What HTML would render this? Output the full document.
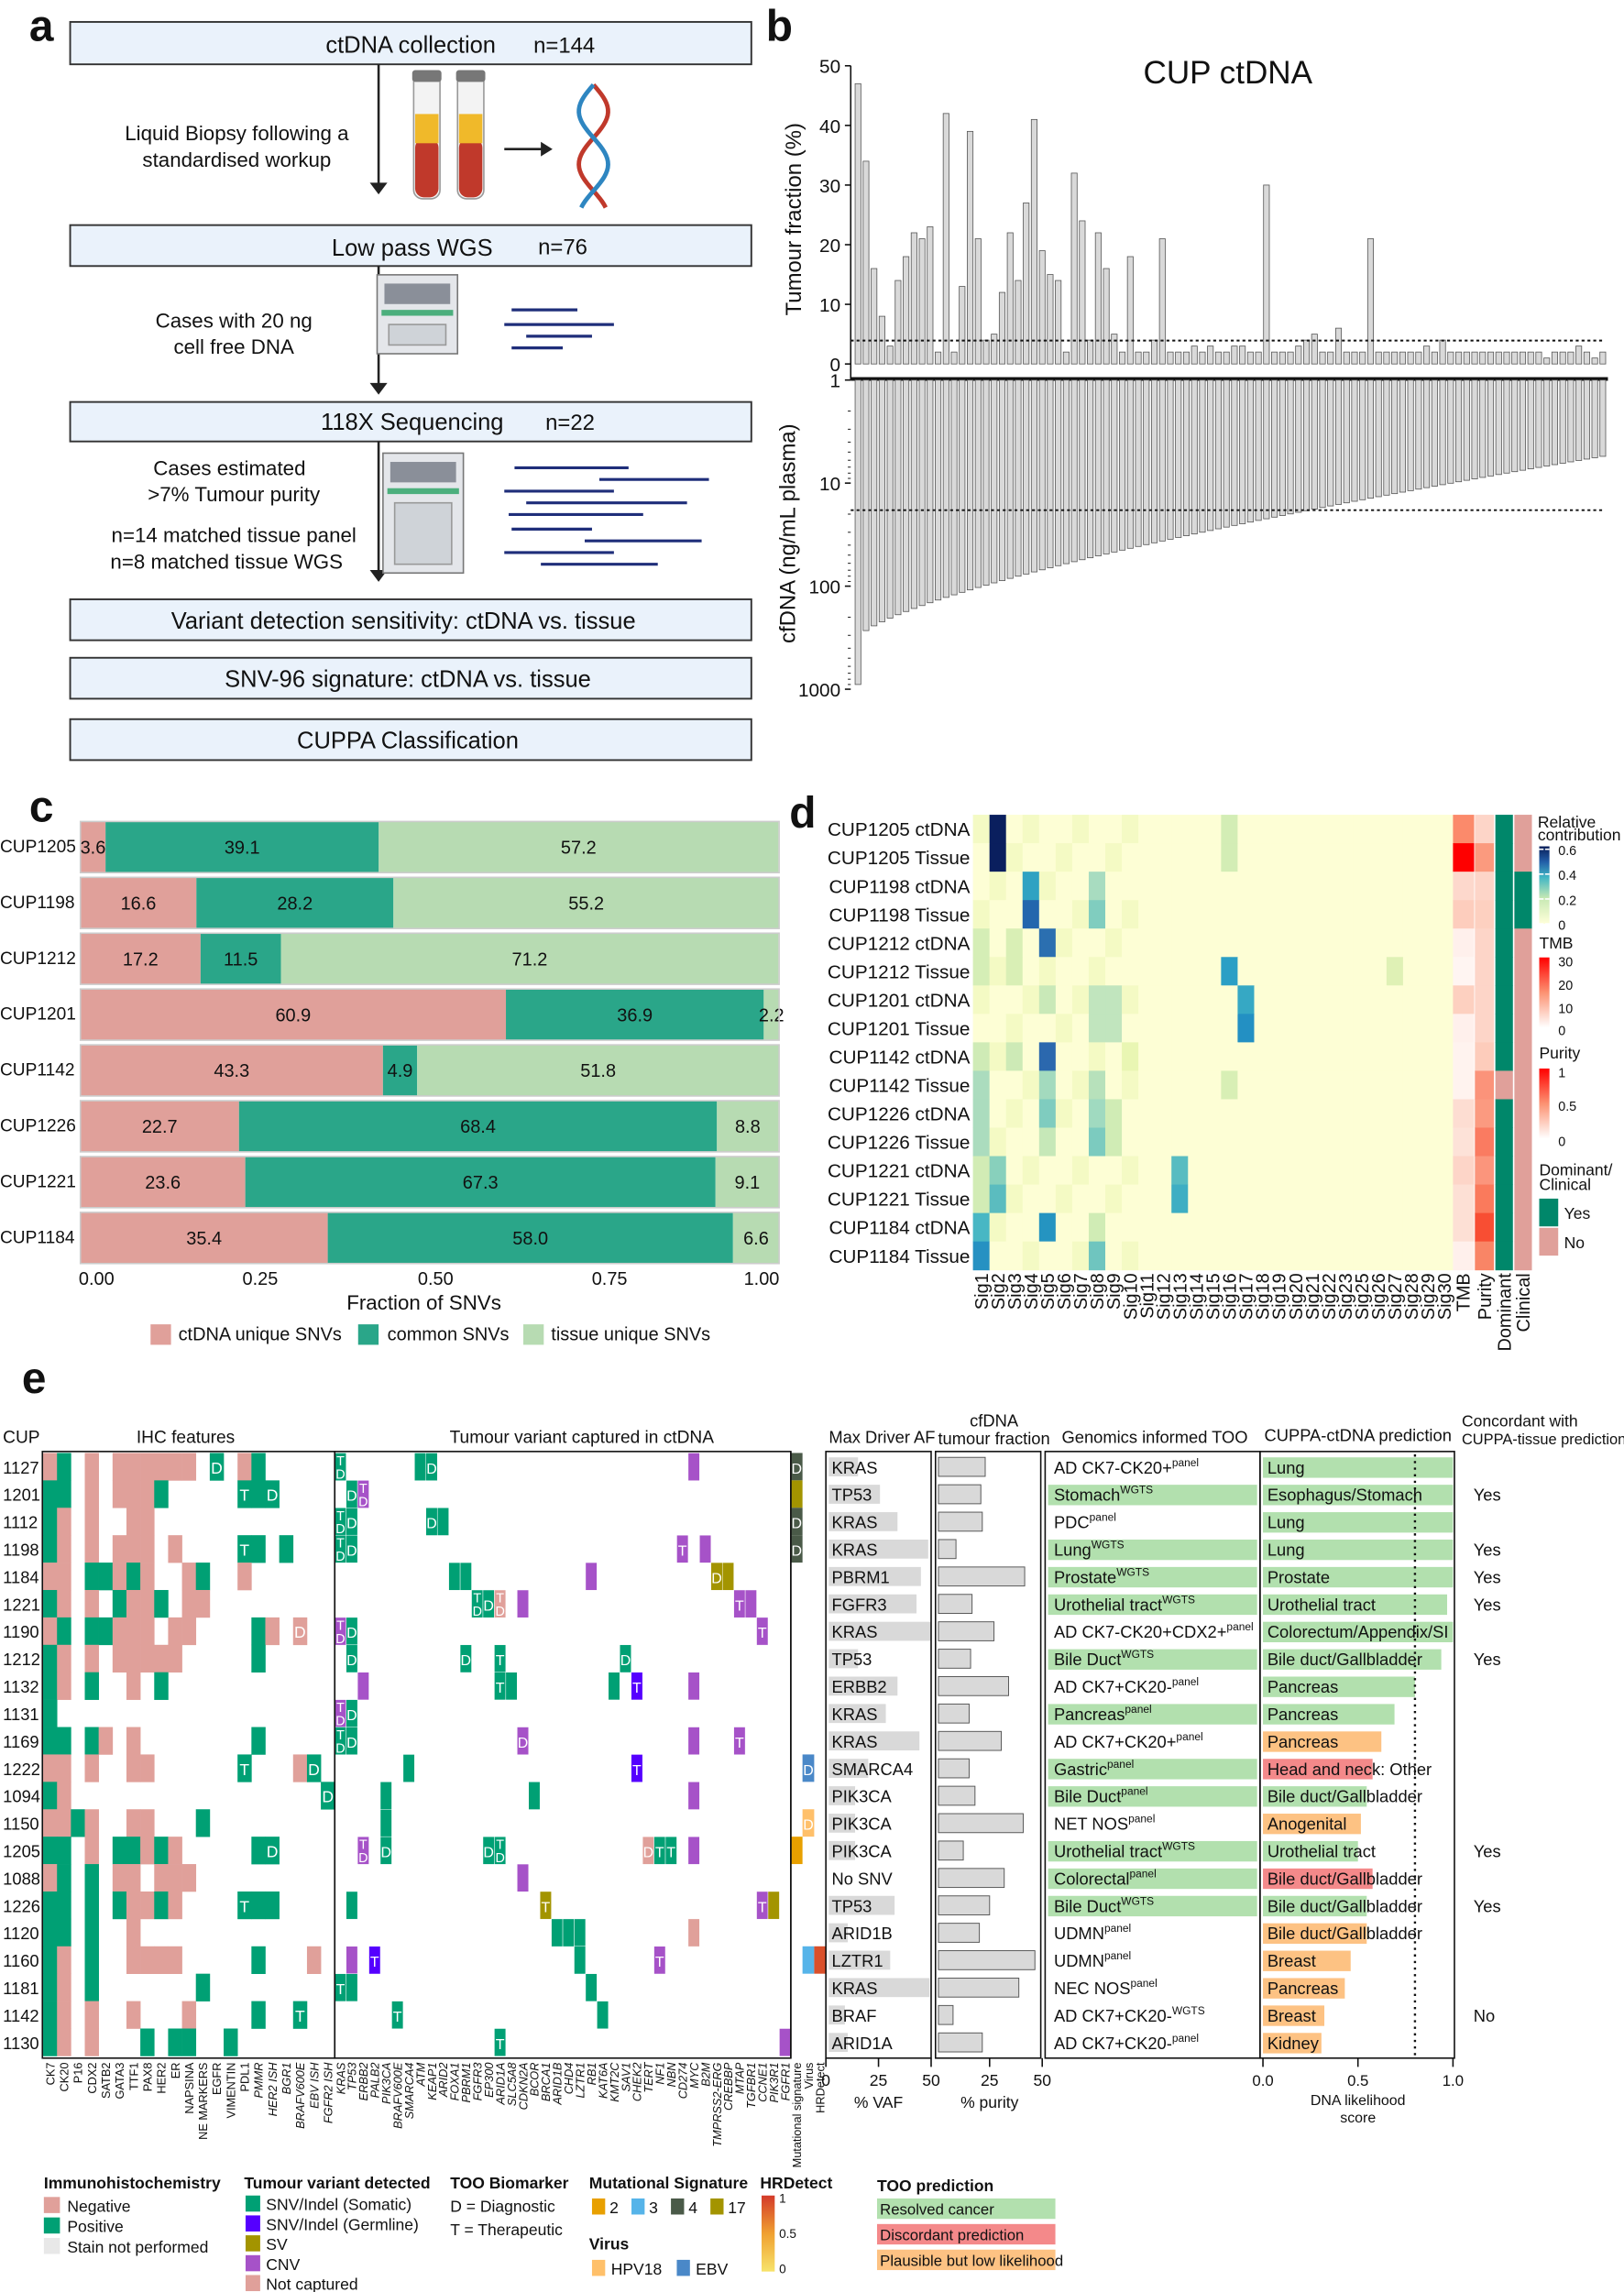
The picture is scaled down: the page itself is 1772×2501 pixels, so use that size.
<!DOCTYPE html>
<html><head><meta charset="utf-8"><style>html,body{margin:0;padding:0;background:#fff}svg{display:block}text{font-family:"Liberation Sans",sans-serif;fill:#111}</style></head>
<body>
<svg id="s" xmlns="http://www.w3.org/2000/svg" width="1772" height="2501" viewBox="0 0 1111 1568" preserveAspectRatio="none">
<defs>
<linearGradient id="gRel" x1="0" y1="1" x2="0" y2="0"><stop offset="0" stop-color="#ffffd9"/><stop offset="0.33" stop-color="#c7e9b4"/><stop offset="0.6" stop-color="#41b6c4"/><stop offset="0.8" stop-color="#225ea8"/><stop offset="1" stop-color="#081d58"/></linearGradient>
<linearGradient id="gRed" x1="0" y1="1" x2="0" y2="0"><stop offset="0" stop-color="#fff"/><stop offset="0.5" stop-color="#fc9272"/><stop offset="1" stop-color="#ff0000"/></linearGradient>
<linearGradient id="gHrd" x1="0" y1="1" x2="0" y2="0"><stop offset="0" stop-color="#f7e36a"/><stop offset="0.5" stop-color="#f0a030"/><stop offset="1" stop-color="#d33a2a"/></linearGradient>
</defs>
<g id="g"></g>
</svg>
<script>
var o=[];
function R(x,y,w,h,f,e){o.push('<rect x="'+x+'" y="'+y+'" width="'+w+'" height="'+h+'" fill="'+f+'" '+(e||'')+'/>');}
function T(x,y,s,sz,a,e){o.push('<text x="'+x+'" y="'+y+'" font-size="'+sz+'" text-anchor="'+(a||'start')+'" '+(e||'')+'>'+s+'</text>');}
function L(x1,y1,x2,y2,c,w,e){o.push('<line x1="'+x1+'" y1="'+y1+'" x2="'+x2+'" y2="'+y2+'" stroke="'+(c||'#111')+'" stroke-width="'+(w||1)+'" '+(e||'')+'/>');}
function P(d,e){o.push('<path d="'+d+'" '+e+'/>');}
// ===== panel a
T(20,28,'a',30,'start','font-weight="bold"');
var bx=[[15,44],[154,182],[275,302],[410,438],[450,478],[492,520]];
bx.forEach(function(b){R(48,b[0],466,b[1]-b[0],'#eaf2fb','stroke="#333" stroke-width="1.2"');});
T(281,36,'ctDNA collection',16,'middle');T(386,36,'n=144',15,'middle');
T(282,175,'Low pass WGS',16,'middle');T(385,174,'n=76',15,'middle');
T(282,294,'118X Sequencing',16,'middle');T(390,294,'n=22',15,'middle');
T(276,430,'Variant detection sensitivity: ctDNA vs. tissue',16,'middle');
T(279,470,'SNV-96 signature: ctDNA vs. tissue',16,'middle');
T(279,512,'CUPPA Classification',16,'middle');
[[44,133],[182,270],[302,398]].forEach(function(a){L(259,a[0],259,a[1]-6,'#222',1.6);P('M253,'+(a[1]-8)+' L259,'+a[1]+' L265,'+(a[1]-8)+' Z','fill="#222"');});
T(162,96,'Liquid Biopsy following a',14,'middle');T(162,114,'standardised workup',14,'middle');
T(160,224,'Cases with 20 ng',14,'middle');T(160,242,'cell free DNA',14,'middle');
T(157,325,'Cases estimated',14,'middle');T(160,343,'&gt;7% Tumour purity',14,'middle');
T(160,371,'n=14 matched tissue panel',14,'middle');T(155,389,'n=8 matched tissue WGS',14,'middle');
[283,313].forEach(function(x){R(x,50,18,86,'#f3f3f3','rx="6" stroke="#999"');R(x+1,95,16,40,'#c0392b','rx="6"');R(x+1,78,16,20,'#f0b92a');R(x-1,48,20,8,'#777','rx="2"');});
L(345,102,372,102,'#222',1.6);P('M370,97 L378,102 L370,107 Z','fill="#222"');
var d1='',d2='';for(var i=0;i<=40;i++){var y=58+i*2.1;d1+=(i?'L':'M')+(406+10*Math.sin(i/5.5))+','+y;d2+=(i?'L':'M')+(406-10*Math.sin(i/5.5))+','+y;}
P(d1,'fill="none" stroke="#c0392b" stroke-width="3"');P(d2,'fill="none" stroke="#2e86c1" stroke-width="3"');
function machine(x,y,h){R(x,y,55,h,'#e4e6ea','stroke="#777"');R(x+5,y+6,45,14,'#8a8f99');R(x+3,y+24,49,4,'#4caf7d');R(x+8,y+34,39,h-40,'#cfd3d8','stroke="#999"');}
machine(258,188,54);machine(262,310,82);
[[350,212,395],[345,222,420],[360,230,405],[350,238,385]].forEach(function(l){L(l[0],l[1],l[2],l[1],'#1f2e7a',2);});
[[352,320,430],[410,328,485],[345,336,420],[360,344,470],[348,352,440],[350,362,405],[400,370,480],[345,378,420],[370,386,450]].forEach(function(l){L(l[0],l[1],l[2],l[1],'#1f2e7a',2);});
// ===== panel b
T(524,28,'b',30,'start','font-weight="bold"');
T(840,57,'CUP ctDNA',22,'middle');
L(582,45,582,260,'#111',1);
for(var v=0;v<=50;v+=10){var y=249-v*4.08;L(578,y,582,y);T(575,y+5,v,13,'end');}
T(0,0,'Tumour fraction (%)',15,'middle','transform="translate(548,150) rotate(-90)"');
var tf=[47,34,16,8,3,14,18,22,21,23,2,42,2,13,39,21,4,5,12,22,14,27,41,19,15,14,2,32,24,4,22,16,5,2,18,2,2,4,21,2,2,2,3,2,3,2,2,3,3,2,2,30,2,2,2,3,4,5,2,2,6,2,2,2,21,2,2,2,2,2,2,3,2,4,2,2,2,2,2,2,2,2,2,2,2,2,1,2,2,2,3,2,1,2];
var N=tf.length,sp=515/N;
for(var i=0;i<N;i++){var h=tf[i]*4.08;R(585+i*sp,249-h,sp*0.72,h,'#d9d9d9','stroke="#555" stroke-width="0.5"');}
L(582,233,1098,233,'#111',1.2,'stroke-dasharray="2,2"');
R(582,258,518,2.5,'#111');
for(var i=0;i<N;i++){var t=Math.pow(i/(N-1),0.7),v=i==0?900:Math.exp(Math.log(320)-(Math.log(320)-Math.log(5.5))*t);var h=Math.log10(v)*70.5;R(585+i*sp,260,sp*0.72,h,'#d9d9d9','stroke="#555" stroke-width="0.5"');}
[[1,260],[10,330.5],[100,401],[1000,471.5]].forEach(function(a){L(578,a[1],582,a[1]);T(575,a[1]+5,a[0],13,'end');});
for(var k=0;k<3;k++)for(var m=2;m<10;m++){var y=260+70.5*(k+Math.log10(m));L(580,y,582,y,'#111',0.6);}
L(582,349,1098,349,'#111',1.2,'stroke-dasharray="2,2"');
T(0,0,'cfDNA (ng/mL plasma)',15,'middle','transform="translate(544,365) rotate(-90)"');
// ===== panel c
T(20,562,'c',30,'start','font-weight="bold"');
var cd=[['CUP1205',3.6,39.1,57.2],['CUP1198',16.6,28.2,55.2],['CUP1212',17.2,11.5,71.2],['CUP1201',60.9,36.9,2.2],['CUP1142',43.3,4.9,51.8],['CUP1226',22.7,68.4,8.8],['CUP1221',23.6,67.3,9.1],['CUP1184',35.4,58.0,6.6]];
var cx0=55,cw=478,cc=['#e0a09a','#2aa689','#b7dbb2'];
cd.forEach(function(r,i){var y=562+i*38.2,x=cx0;T(0,y+21,r[0],12);
 for(var j=0;j<3;j++){var w=r[j+1]/100*cw;R(x,y,w,35,cc[j]);var lx=x+w/2;T(lx,y+22,r[j+1].toFixed(1),12.5,'middle');x+=w;}
 R(cx0,y,cw,35,'none','stroke="#ccc" stroke-width="1"');});
[['0.00',66],['0.25',178],['0.50',298],['0.75',417],['1.00',521]].forEach(function(a){T(a[1],879,a[0],12.5,'middle');});
T(290,896,'Fraction of SNVs',14,'middle');
R(103,906,14,14,cc[0]);T(122,917,'ctDNA unique SNVs',12.5);R(245,906,14,14,cc[1]);T(265,917,'common SNVs',12.5);R(358,906,14,14,cc[2]);T(377,917,'tissue unique SNVs',12.5);
// ===== panel d
T(540,566,'d',30,'start','font-weight="bold"');
var rl=['CUP1205 ctDNA','CUP1205 Tissue','CUP1198 ctDNA','CUP1198 Tissue','CUP1212 ctDNA','CUP1212 Tissue','CUP1201 ctDNA','CUP1201 Tissue','CUP1142 ctDNA','CUP1142 Tissue','CUP1226 ctDNA','CUP1226 Tissue','CUP1221 ctDNA','CUP1221 Tissue','CUP1184 ctDNA','CUP1184 Tissue'];
var hx=665.6,hw=(993.8-665.6)/29,hy=557.4,hh=19.46;
var sp2={'0,1':'#0a1f5e','1,1':'#0a1f5e','2,3':'#2fa2c2','3,3':'#2366ad','4,4':'#2b6fb0','8,4':'#2b68ae','14,4':'#2594c1','9,4':'#a3dabe','10,4':'#7fccbf','11,4':'#c6e8b8','6,4':'#c9e9b8',
'2,7':'#a8dcc0','3,7':'#80cdbf','6,7':'#c1e5be','7,7':'#c1e5be','6,8':'#c1e5be','7,8':'#c1e5be','9,7':'#b7e1bb','10,7':'#a0dac0','11,7':'#7ccbbf','15,7':'#6fc5bf','10,8':'#d0ecb5','11,8':'#d0ecb5','14,7':'#d0ecb5',
'5,15':'#2b9fc5','6,16':'#36a8c4','7,16':'#2390c3','12,12':'#58bcc1','13,12':'#3eaec3','12,1':'#88d0bc','13,1':'#5bbcbf','0,15':'#d3edb5','1,15':'#d3edb5','9,15':'#d8efb5',
'14,0':'#48b7c4','15,0':'#2691c2','9,0':'#abdcbe','10,0':'#abdcbe','11,0':'#abdcbe','12,0':'#d2ecb5','13,0':'#d2ecb5','4,0':'#d5eeb6','5,0':'#d5eeb6','8,0':'#cfebb6','4,2':'#d9efb5','5,2':'#d9efb5','8,2':'#cdeab6','5,25':'#dff1b5','8,9':'#e9f6b3'};
for(var r=0;r<16;r++){T(hx-2,hy+r*hh+14.5,rl[r],13,'end');for(var c=0;c<29;c++){var k=r+','+c,f=sp2[k]||((c<10&&(r+c)%3==0)?'#f4fac4':'#fdfed5');R(hx+c*hw,hy+r*hh,hw+0.3,hh+0.3,f);}}
var tmb=['#fb8a6b','#fe0000','#fdd8cc','#fdcdbd','#fff0ec','#fff5f2','#fdd0c0','#fff0ec','#fff3ef','#fff3ef','#fdddd2','#fde2d8','#fdd5c8','#fde0d5','#fde0d5','#fff0ec'];
var pur=['#fdd5c8','#fb9a7e','#fdd5c8','#fdd0c0','#fdd5c8','#fdd5c8','#fdd5c8','#fdd5c8','#fdccbb','#fb937a','#fb9a80','#fa7b61','#fb957c','#fa7a5c','#f84e33','#f98566'];
for(var r=0;r<16;r++){var y=hy+r*hh;R(994,y,14.5,hh+0.3,tmb[r]);R(1009,y,13,hh+0.3,pur[r]);R(1023,y,12,hh+0.3,r==9?'#e0a09a':'#00876a');R(1036,y,12,hh+0.3,(r==2||r==3)?'#00876a':'#e0a09a');}
var sl=[];for(var i=1;i<=30;i++)if(i!=24)sl.push('Sig'+i);
sl.forEach(function(s,i){var x=hx+i*hw+hw/2+4.5;T(0,0,s,12.5,'end','transform="translate('+x+',871) rotate(-90)"');});
[['TMB',1001],['Purity',1015.5],['Dominant',1029],['Clinical',1042]].forEach(function(a){T(0,0,a[0],12.5,'end','transform="translate('+(a[1]+4.5)+',871) rotate(-90)"');});
T(1052,566,'Relative',11);T(1052,575,'contribution',11);
R(1053,579,7,53,'url(#gRel)');[['0.6',581],['0.4',598],['0.2',615],['0',632]].forEach(function(a){T(1066,a[1]+4,a[0],9);L(1053,a[1],1056,a[1],'#fff');L(1057,a[1],1060,a[1],'#fff');});
T(1053,649,'TMB',11);R(1053,655,7,48,'url(#gRed)');[['30',657],['20',673],['10',689],['0',704]].forEach(function(a){T(1066,a[1]+4,a[0],9);});
T(1053,724,'Purity',11);R(1053,731,7,48,'url(#gRed)');[['1',733],['0.5',756],['0',780]].forEach(function(a){T(1066,a[1]+4,a[0],9);});
T(1053,804,'Dominant/',11);T(1053,814,'Clinical',11);R(1053,820,13,19,'#00876a');T(1070,834,'Yes',11);R(1053,840,13,19,'#e0a09a');T(1070,854,'No',11);
// ===== panel e
T(15,953,'e',30,'start','font-weight="bold"');
T(2,987,'CUP',12);T(127,987,'IHC features',12,'middle');T(398,987,'Tumour variant captured in ctDNA',12,'middle');
T(567,987,'Max Driver AF',11.5);T(680,976,'cfDNA',11.5,'middle');T(680,988,'tumour fraction',11.5,'middle');
T(790,987,'Genomics informed TOO',11.5,'middle');T(929,986,'CUPPA-ctDNA prediction',11.5,'middle');T(1000,976,'Concordant with',11);T(1000,988,'CUPPA-tissue prediction',10.3);
var cups=[1127,1201,1112,1198,1184,1221,1190,1212,1132,1131,1169,1222,1094,1150,1205,1088,1226,1120,1160,1181,1142,1130];
var ey=994,eh=18.75;
var ihc=['PG.P.PPPPPP.D.PG.....','GG.P.PPPG.....TGD....','GP.P..PP.............','GP.P.PPP.P....TG.G...','PP.GGPGP..PG..P......','GP.P.GPPG.PP.........','PG.GGPPP.PP....GP.d..','GP.P.PPPPP.....G.....','GP.G..P.G............','G....................','GG.GP.P........G.....','PP.P..PP......T...PD.','GP..................D','PPGP..PP...G.........','GG.P.GGPGP.....GD....','PG.G.PP.PPP..........','GG.G.GPPGP....TGG....','GG.G..P..............','GP.G..PPPP.....G...P.','GP.G.......G.........','GP.P..P...P....G..T..','GP.P...G.GG..G.......'];
var ix=29.5,iw=9.5,G='#00a074',PK='#e0a09a',V='#a652c8',B='#5500ff',O='#a39400';
cups.forEach(function(c,r){var y=ey+r*eh;T(2,y+14,c,11.5);
 for(var j=0;j<21;j++){var ch=ihc[r][j];if(ch=='.')continue;var f=(ch=='P'||ch=='d')?PK:G;R(ix+j*iw,y,iw+0.2,eh+0.2,f);if(ch=='D'||ch=='d'||ch=='T')T(ix+j*iw+iw/2,y+14,ch=='T'?'T':'D',11,'middle','style="fill:#fff"');}});
var vx=229,vw=7.8;
var vr=[[[0,G,'TD'],[7,G],[8,G,'D'],[31,V]],[[1,G,'D'],[2,V,'TD']],[[0,G,'TD'],[1,G,'D'],[8,G,'D'],[9,G]],[[0,G,'TD'],[1,G,'D'],[30,V,'T'],[32,V]],[[10,G],[11,G],[22,V],[33,O,'D'],[34,O]],[[12,G,'TD'],[13,G,'D'],[14,PK,'TD'],[16,V],[35,V,'T'],[36,V]],[[0,V,'TD'],[1,G,'D'],[37,V,'T']],[[1,G,'D'],[11,G,'D'],[14,G,'T'],[25,G,'D']],[[2,V],[14,G,'T'],[15,G],[24,G],[26,B,'T'],[31,V]],[[0,V,'TD'],[1,G,'D']],[[0,G,'TD'],[1,G,'D'],[16,V,'D'],[31,V],[35,V,'T']],[[6,G],[26,B,'T']],[[4,G],[17,G],[31,V]],[[4,G]],[[2,V,'TD'],[4,G,'D'],[13,G,'D'],[14,G,'TD'],[27,PK,'D'],[28,G,'T'],[29,G,'T'],[31,V]],[[16,V]],[[1,G],[18,O,'T'],[37,V,'T'],[38,O]],[[19,G],[20,G],[21,G],[31,PK]],[[1,V],[3,B,'T'],[21,G],[28,V,'T']],[[0,G,'T'],[1,G],[22,G]],[[5,G,'T'],[23,G]],[[14,G,'T'],[39,V]]];
vr.forEach(function(a,r){var y=ey+r*eh;a.forEach(function(c){var x=vx+c[0]*vw;R(x,y,vw,eh+0.2,c[1],'stroke="#fff" stroke-width="0.3"');if(c[2]=='TD'){T(x+vw/2,y+8.5,'T',9,'middle','style="fill:#fff"');T(x+vw/2,y+17.5,'D',9,'middle','style="fill:#fff"');}else if(c[2])T(x+vw/2,y+14,c[2],10,'middle','style="fill:#fff"');});});
var ms=[[0,'#4a5a48','D'],[1,O],[2,'#4a5a48','D'],[3,'#4a5a48','D'],[14,'#e8a000']];
ms.forEach(function(m){var y=ey+m[0]*eh;R(541,y,8,eh,m[1]);if(m[2])T(545,y+14,'D',10,'middle','style="fill:#fff"');});
R(549,ey+11*eh,8,eh,'#4a88c8');T(553,ey+11*eh+14,'D',10,'middle','style="fill:#fff"');
R(549,ey+13*eh,8,eh,'#ffc06a');T(553,ey+13*eh+14,'D',10,'middle','style="fill:#fff"');
R(549,ey+18*eh,8,eh,'#56b4e9');R(557,ey+18*eh,8,eh,'#d9502b');
R(29,993,200,415,'none','stroke="#111" stroke-width="1"');R(229,993,312,415,'none','stroke="#111" stroke-width="1"');L(541,993,541,1408);
var il=['CK7','CK20','P16','CDX2','SATB2','GATA3','TTF1','PAX8','HER2','ER','NAPSINA','NE MARKERS','EGFR','VIMENTIN','PDL1','PMMR','HER2 ISH','BGR1','BRAFV600E','EBV ISH','FGFR2 ISH'];
il.forEach(function(s,i){var x=ix+i*iw+iw/2+3;T(0,0,s,8,'end','transform="translate('+x+',1411) rotate(-90)"'+(i>=15?' font-style="italic"':''));});
var vl=['KRAS','TP53','ERBB2','PALB2','PIK3CA','BRAFV600E','SMARCA4','ATM','KEAP1','ARID2','FOXA1','PBRM1','FGFR3','EP300','ARID1A','SLC5A8','CDKN2A','BCOR','BRCA1','ARID1B','CHD4','LZTR1','RB1','KAT6A','KMT2C','SAV1','CHEK2','TERT','NF1','NBN','CD274','MYC','B2M','TMPRSS2-ERG','CREBBP','MTAP','TGFBR1','CCNE1','PIK3R1','FGFR1'];
vl.forEach(function(s,i){var x=vx+i*vw+vw/2+3;T(0,0,s,8,'end','transform="translate('+x+',1411) rotate(-90)" font-style="italic"');});
[['Mutational signature',545],['Virus',553],['HRDetect',561]].forEach(function(a){T(0,0,a[0],8,'end','transform="translate('+(a[1]+3)+',1411) rotate(-90)"');});
var genes=['KRAS','TP53','KRAS','KRAS','PBRM1','FGFR3','KRAS','TP53','ERBB2','KRAS','KRAS','SMARCA4','PIK3CA','PIK3CA','PIK3CA','No SNV','TP53','ARID1B','LZTR1','KRAS','BRAF','ARID1A'];
var ve=[587,602,614,635,630,627,637,587,614,606,629,594,585,585,585,0,612,580,609,636,578,580];
var ce=[674,671,672,654,701,665,680,664,690,663,685,663,667,700,659,687,677,670,708,697,652,672];
var tooL=[['AD CK7-CK20+','panel',0],['Stomach','WGTS',1],['PDC','panel',0],['Lung','WGTS',1],['Prostate','WGTS',1],['Urothelial tract','WGTS',1],['AD CK7-CK20+CDX2+','panel',0],['Bile Duct','WGTS',1],['AD CK7+CK20-','panel',0],['Pancreas','panel',1],['AD CK7+CK20+','panel',0],['Gastric','panel',1],['Bile Duct','panel',1],['NET NOS','panel',0],['Urothelial tract','WGTS',1],['Colorectal','panel',1],['Bile Duct','WGTS',1],['UDMN','panel',0],['UDMN','panel',0],['NEC NOS','panel',0],['AD CK7+CK20-','WGTS',0],['AD CK7+CK20-','panel',0]];
var cu=[['Lung',994,'g'],['Esophagus/Stomach',994,'g'],['Lung',994,'g'],['Lung',994,'g'],['Prostate',994,'g'],['Urothelial tract',990,'g'],['Colorectum/Appendix/SI',994,'g'],['Bile duct/Gallbladder',986,'g'],['Pancreas',968,'g'],['Pancreas',954,'g'],['Pancreas',945,'o'],['Head and neck: Other',939,'r'],['Bile duct/Gallbladder',935,'g'],['Anogenital',931,'o'],['Urothelial tract',929,'g'],['Bile duct/Gallbladder',939,'r'],['Bile duct/Gallbladder',935,'g'],['Bile duct/Gallbladder',935,'o'],['Breast',924,'o'],['Pancreas',920,'o'],['Breast',906,'o'],['Kidney',904,'o']];
var cc2={g:'#b2e0ae',o:'#fdc283',r:'#f4898a'};
var yes={1:'Yes',3:'Yes',4:'Yes',5:'Yes',7:'Yes',14:'Yes',16:'Yes',20:'No'};
for(var r=0;r<22;r++){var y=ey+r*eh;
 if(ve[r])R(567,y+3,ve[r]-567,13,'#d9d9d9');T(569,y+14,genes[r],11.5);
 R(642,y+3,ce[r]-642,13,'#d9d9d9','stroke="#555" stroke-width="0.6"');
 var t=tooL[r];if(t[2])R(717,y+3,143,14,'#b2e0ae');o.push('<text x="721" y="'+(y+14)+'" font-size="11.5">'+t[0]+'<tspan font-size="7.5" dy="-5">'+t[1]+'</tspan></text>');
 R(864,y+3,cu[r][1]-864,14,cc2[cu[r][2]]);T(867,y+14,cu[r][0],11.5);
 if(yes[r])T(1008,y+14,yes[r],11.5);}
L(968,995,968,1406,'#111',1.5,'stroke-dasharray="1.5,3"');
R(565,993,72,415,'none','stroke="#111"');R(640,993,72,415,'none','stroke="#111"');R(715,993,147,415,'none','stroke="#111"');R(862,993,133,415,'none','stroke="#111"');
[[565,'0'],[601,'25'],[637,'50']].forEach(function(a){L(a[0],1408,a[0],1414);T(a[0],1427,a[1],11,'middle');});
[[677,'25'],[713,'50']].forEach(function(a){L(a[0],1408,a[0],1414);T(a[0],1427,a[1],11,'middle');});
T(601,1442,'% VAF',11,'middle');T(677,1442,'% purity',11,'middle');
[[864,'0.0'],[929,'0.5'],[994,'1.0']].forEach(function(a){L(a[0],1408,a[0],1414);T(a[0],1427,a[1],10.5,'middle');});
T(929,1440,'DNA likelihood',10,'middle');T(929,1452,'score',10,'middle');
T(30,1497,'Immunohistochemistry',11,'start','font-weight="bold"');R(30,1503,11,11,PK);T(46,1513,'Negative',11);R(30,1517,11,11,G);T(46,1527,'Positive',11);R(30,1531,11,11,'#e8e8e8');T(46,1541,'Stain not performed',11);
T(167,1497,'Tumour variant detected',11,'start','font-weight="bold"');
[[G,'SNV/Indel (Somatic)'],[B,'SNV/Indel (Germline)'],[O,'SV'],[V,'CNV'],[PK,'Not captured']].forEach(function(a,i){R(168,1502+i*13.6,10,11,a[0]);T(182,1512+i*13.6,a[1],11);});
T(308,1497,'TOO Biomarker',11,'start','font-weight="bold"');T(308,1513,'D = Diagnostic',11);T(308,1529,'T = Therapeutic',11);
T(403,1497,'Mutational Signature',11,'start','font-weight="bold"');
[['#e8a000','2',405],['#56b4e9','3',432],['#4a5a48','4',459],[O,'17',486]].forEach(function(a){R(a[2],1504,9,11,a[0]);T(a[2]+12,1514,a[1],11);});
T(403,1539,'Virus',11,'start','font-weight="bold"');R(405,1546,9,11,'#ffc06a');T(418,1556,'HPV18',11);R(463,1546,9,11,'#4a88c8');T(476,1556,'EBV',11);
T(520,1497,'HRDetect',11,'start','font-weight="bold"');R(521,1502,9,52,'url(#gHrd)');T(533,1507,'1',8.5);T(533,1531,'0.5',8.5);T(533,1555,'0',8.5);
T(600,1499,'TOO prediction',11,'start','font-weight="bold"');
[['#b2e0ae','Resolved cancer'],['#f4898a','Discordant prediction'],['#fdc283','Plausible but low likelihood']].forEach(function(a,i){R(600,1504+i*17.5,122,14,a[0]);T(602,1515+i*17.5,a[1],10.5);});
document.getElementById('g').innerHTML=o.join('');
</script>
</body></html>
